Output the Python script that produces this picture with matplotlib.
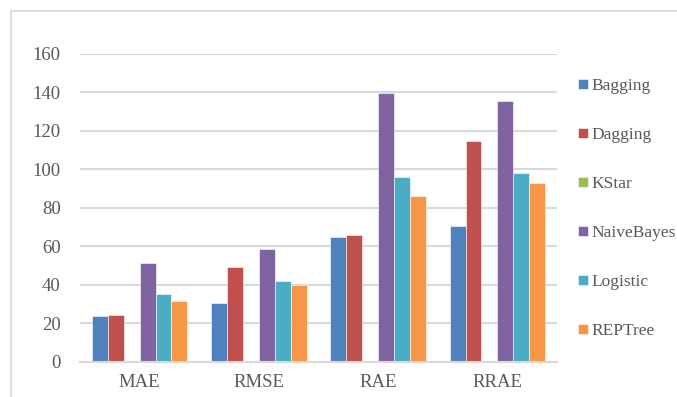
import matplotlib
matplotlib.use("Agg")
import matplotlib.pyplot as plt
from matplotlib.lines import Line2D
import numpy as np

plt.rcParams['font.family'] = ['Liberation Serif', 'DejaVu Serif']

categories = ["MAE", "RMSE", "RAE", "RRAE"]
series_names = ["Bagging", "Dagging", "KStar", "NaiveBayes", "Logistic", "REPTree"]
bagging = [23.8, 30.3, 64.6, 70.5]
dagging = [24.1, 49.2, 65.8, 114.7]
kstar = [0, 0, 0, 0]
naive_bayes = [51.1, 58.5, 139.5, 135.5]
logistic = [35.2, 41.9, 95.8, 97.9]
reptree = [31.5, 39.8, 85.9, 92.7]
y_ticks = [0, 20, 40, 60, 80, 100, 120, 140, 160]

series_values = [bagging, dagging, kstar, naive_bayes, logistic, reptree]
colors = ["#4F81BD", "#C0504D", "#9BBB59", "#8064A2", "#4BACC6", "#F79646"]
text_color = "#595959"
grid_color = "#D9D9D9"

fig = plt.figure(figsize=(6.77, 3.97), dpi=100)
ax = fig.add_axes([80 / 677, 1 - 361.7 / 397, 477 / 677, 308 / 397])

x = np.arange(len(categories))
n = len(series_names)
w = 1.0 / (n + 1.5)
for i, (name, vals, c) in enumerate(zip(series_names, series_values, colors)):
    ax.bar(x + (i - (n - 1) / 2) * w, vals, width=w, color=c, label=name,
           edgecolor="white", linewidth=0.4, zorder=3)

ax.set_xlim(-0.5, len(categories) - 0.5)
ax.set_ylim(0, 160)
ax.set_yticks(y_ticks)
ax.set_xticks(x)
ax.set_xticklabels(categories)
ax.yaxis.grid(True, color=grid_color, linewidth=1.5, zorder=0)
ax.set_axisbelow(True)
for side in ["top", "right", "left"]:
    ax.spines[side].set_visible(False)
ax.spines["bottom"].set_color(grid_color)
ax.spines["bottom"].set_linewidth(1.5)
ax.spines["bottom"].set_zorder(4)
ax.tick_params(axis="both", length=0, labelsize=13.5, colors=text_color)
ax.tick_params(axis="y", pad=14)
ax.tick_params(axis="x", pad=9)

leg = fig.legend(loc="center left", bbox_to_anchor=(578 / 677, 1 - 208.5 / 397),
                 frameon=False, fontsize=12.5, handlelength=0.55, handleheight=0.55,
                 handletextpad=0.25, labelspacing=1.9, borderpad=0, borderaxespad=0)
for t in leg.get_texts():
    t.set_color(text_color)

# outer chart frame (left and top edges)
fig.add_artist(Line2D([11 / 677, 11 / 677], [0, 1 - 10.7 / 397],
                      transform=fig.transFigure, color=grid_color, linewidth=1.3))
fig.add_artist(Line2D([11 / 677, 1], [1 - 10.7 / 397, 1 - 10.7 / 397],
                      transform=fig.transFigure, color=grid_color, linewidth=1.3))

fig.savefig("out.png", dpi=100)
